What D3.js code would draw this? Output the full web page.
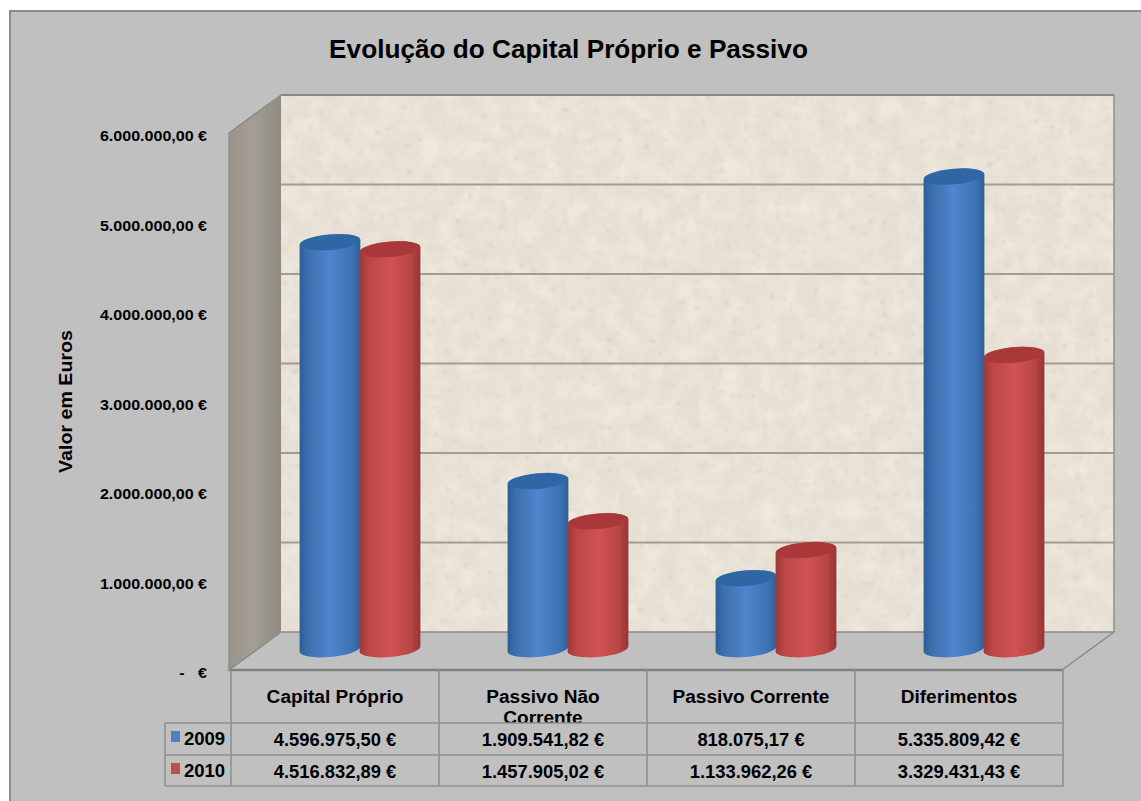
<!DOCTYPE html>
<html><head><meta charset="utf-8">
<script src="https://cdnjs.cloudflare.com/ajax/libs/d3/7.8.5/d3.min.js"></script>
<style>html,body{margin:0;padding:0;background:#fff}svg{display:block;font-family:"Liberation Sans",Arial,sans-serif}</style>
</head><body><div id="c"></div>
<script>
const chartTitle = "Evolução do Capital Próprio e Passivo";
const axisTitle = "Valor em Euros";
const categories = ["Capital Próprio", "Passivo Não Corrente", "Passivo Corrente", "Diferimentos"];
const seriesNames = ["2009", "2010"];
const values2009 = [4596975.50, 1909541.82, 818075.17, 5335809.42];
const values2010 = [4516832.89, 1457905.02, 1133962.26, 3329431.43];
const labels2009 = ["4.596.975,50 €", "1.909.541,82 €", "818.075,17 €", "5.335.809,42 €"];
const labels2010 = ["4.516.832,89 €", "1.457.905,02 €", "1.133.962,26 €", "3.329.431,43 €"];
const tickValues = [0, 1000000, 2000000, 3000000, 4000000, 5000000, 6000000];
const tickLabels = ["-\u00a0\u00a0\u00a0€", "1.000.000,00 €", "2.000.000,00 €", "3.000.000,00 €", "4.000.000,00 €", "5.000.000,00 €", "6.000.000,00 €"];

const W = 1141, H = 801;
const svg = d3.select("#c").append("svg").attr("width", W).attr("height", H);
const defs = svg.append("defs");

const grad = (id, stops) => {
  const g = defs.append("linearGradient").attr("id", id).attr("x1", 0).attr("x2", 1).attr("y1", 0).attr("y2", 0);
  stops.forEach(s => g.append("stop").attr("offset", s[0]).attr("stop-color", s[1]));
};
grad("blue", [[0, "#2d5c95"], [.12, "#3a6fae"], [.5, "#4f86cc"], [.85, "#3f74b4"], [1, "#2f5f9a"]]);
grad("red", [[0, "#9c3a3a"], [.15, "#bd4646"], [.5, "#d25252"], [.85, "#b94545"], [1, "#963434"]]);
grad("side", [[0, "#99948a"], [.45, "#a49e95"], [1, "#8f8b80"]]);

// sandstone texture: faint mottling plus sparse soft specks
const f = defs.append("filter").attr("id", "sand").attr("x", 0).attr("y", 0).attr("width", 1).attr("height", 1);
f.append("feTurbulence").attr("type", "fractalNoise").attr("baseFrequency", 0.05).attr("numOctaves", 3).attr("seed", 3).attr("result", "low");
f.append("feColorMatrix").attr("in", "low").attr("type", "matrix")
  .attr("values", "0 0 0 0 .96  0 0 0 0 .93  0 0 0 0 .86  .7 0 0 0 -.22").attr("result", "mottle");
f.append("feTurbulence").attr("type", "fractalNoise").attr("baseFrequency", 0.16).attr("numOctaves", 2).attr("seed", 11).attr("result", "n");
f.append("feColorMatrix").attr("in", "n").attr("type", "matrix")
  .attr("values", "0 0 0 0 .62  0 0 0 0 .57  0 0 0 0 .48  3 0 0 0 -1.95").attr("result", "spots");
f.append("feGaussianBlur").attr("in", "spots").attr("stdDeviation", 1).attr("result", "soft");
f.append("feMerge").call(m => {
  m.append("feMergeNode").attr("in", "SourceGraphic");
  m.append("feMergeNode").attr("in", "mottle");
  m.append("feMergeNode").attr("in", "soft");
});
defs.append("clipPath").attr("id", "catClip").append("rect").attr("x", 231).attr("y", 670).attr("width", 832).attr("height", 53);

const stretch = (sel, k) => sel.each(function () {
  const n = this.getComputedTextLength();
  d3.select(this).attr("textLength", n * k).attr("lengthAdjust", "spacingAndGlyphs");
});

svg.append("rect").attr("x", 10).attr("y", 11).attr("width", W).attr("height", H)
  .attr("fill", "#c0c0c0").attr("stroke", "#8c8c8c").attr("stroke-width", 2);

svg.append("text").attr("x", 568.5).attr("y", 58).attr("text-anchor", "middle")
  .attr("font-size", 26.2).attr("font-weight", "bold").attr("fill", "#000").text(chartTitle);

const dx = 52, dy = 38;
const yWall = d3.scaleLinear().domain([0, 6000000]).range([670, 133]);
const yBar = d3.scaleLinear().domain([0, 6000000]).range([651, 117.6]);
const xCat = d3.scaleBand().domain(categories).range([231, 1063]);
const baseY = 649, rx = 30.5, ry = 8, tilt = -5;

const L = 229, R = 1062;
const g = svg.append("g");
g.append("rect").attr("x", L + dx).attr("y", yWall(6000000) - dy).attr("width", R - L)
  .attr("height", yWall(0) - yWall(6000000)).attr("fill", "#e6dfd3").attr("filter", "url(#sand)");
g.append("path").attr("d", d3.line()([[L, yWall(6000000)], [L + dx, yWall(6000000) - dy], [L + dx, yWall(0) - dy], [L, yWall(0)]]) + "Z")
  .attr("fill", "url(#side)");
g.append("path").attr("d", d3.line()([[L, yWall(0)], [L + dx, yWall(0) - dy], [R + dx, yWall(0) - dy], [R, yWall(0)]]) + "Z")
  .attr("fill", "#c0c0c0").attr("stroke", "#8a8a86").attr("stroke-width", 1.5);
g.append("line").attr("x1", L).attr("x2", R).attr("y1", yWall(0)).attr("y2", yWall(0)).attr("stroke", "#808080").attr("stroke-width", 2.5);
g.selectAll("line.grid").data(tickValues.slice(1)).join("line").attr("class", "grid")
  .attr("x1", L + dx).attr("x2", R + dx).attr("y1", d => yWall(d) - dy).attr("y2", d => yWall(d) - dy)
  .attr("stroke", d => d === 6000000 ? "#8c8880" : "#a39c90").attr("stroke-width", 2);
g.append("line").attr("x1", R + dx).attr("x2", R + dx).attr("y1", yWall(6000000) - dy).attr("y2", yWall(0) - dy).attr("stroke", "#8f8f8a").attr("stroke-width", 1.5);
g.append("line").attr("x1", L + dx).attr("x2", L).attr("y1", yWall(6000000) - dy).attr("y2", yWall(6000000)).attr("stroke", "#8f8b82").attr("stroke-width", 1.5);
g.append("line").attr("x1", L).attr("x2", L).attr("y1", yWall(6000000)).attr("y2", yWall(0)).attr("stroke", "#8f8f8a").attr("stroke-width", 1.5);

const axis = d3.axisLeft(yWall).tickValues(tickValues).tickSize(0).tickPadding(0)
  .tickFormat((d, i) => tickLabels[i]);
const axG = svg.append("g").attr("transform", "translate(207,3)").call(axis);
axG.select(".domain").remove();
axG.selectAll("text").attr("font-family", "'Liberation Sans',Arial,sans-serif").attr("font-size", 15)
  .attr("font-weight", "bold").attr("fill", "#000").call(stretch, 1.07);

svg.append("text").attr("transform", "translate(72,401.5) rotate(-90)").attr("text-anchor", "middle")
  .attr("font-size", 18).attr("font-weight", "bold").text(axisTitle).call(stretch, 1.09);

const rad = tilt * Math.PI / 180;
const cylinder = (cx, top) => {
  const ex = rx * Math.cos(rad), ey = rx * Math.sin(rad);
  return `M${cx - ex},${baseY - ey}L${cx - ex},${top - ey}` +
    `A${rx},${ry} ${tilt} 0 1 ${cx + ex},${top + ey}` +
    `L${cx + ex},${baseY + ey}` +
    `A${rx},${ry} ${tilt} 0 1 ${cx - ex},${baseY - ey}Z`;
};
const topEllipse = (cx, top) => `translate(${cx},${top}) rotate(${tilt})`;
[values2009, values2010].forEach((vals, si) => {
  const s = svg.append("g");
  const items = vals.map((v, i) => ({ v, cx: xCat(categories[i]) + xCat.bandwidth() / 2 + 25 + (si ? 30 : -30) }));
  s.selectAll("path").data(items).join("path")
    .attr("d", d => cylinder(d.cx, yBar(d.v)))
    .attr("fill", si ? "url(#red)" : "url(#blue)");
  s.selectAll("ellipse").data(items).join("ellipse")
    .attr("rx", rx - .5).attr("ry", ry - .3)
    .attr("transform", d => topEllipse(d.cx, yBar(d.v)))
    .attr("fill", si ? "#a93838" : "#2f66a4");
});

const tbl = svg.append("g");
const colX = [165, 231, 439, 647, 855, 1063];
const rowY = [670, 723, 755, 786];
const stroke = "#8f8f8f";
const ln = (x1, y1, x2, y2) => tbl.append("line").attr("x1", x1).attr("y1", y1).attr("x2", x2).attr("y2", y2).attr("stroke", stroke).attr("stroke-width", 1.6);

const centers = [0, 1, 2, 3].map(i => (colX[i + 1] + colX[i + 2]) / 2);
const cats = tbl.append("g").attr("clip-path", "url(#catClip)").attr("font-size", 17.5).attr("font-weight", "bold").attr("text-anchor", "middle");
categories.forEach((c, i) => {
  const wrapped = c === "Passivo Não Corrente" ? ["Passivo Não", "Corrente"] : [c];
  wrapped.forEach((t, k) => cats.append("text").attr("x", centers[i]).attr("y", 703 + k * 21).text(t).call(stretch, 1.09));
});
[rowY[1], rowY[2], rowY[3]].forEach(y => ln(165, y, 1064, y));
ln(165, rowY[1], 165, rowY[3]);
colX.slice(1).forEach(x => ln(x, 670, x, rowY[3]));

[labels2009, labels2010].forEach((lab, r) => {
  const cy = rowY[r + 1] + 22.5;
  tbl.append("rect").attr("x", 171).attr("y", rowY[r + 1] + 8).attr("width", 9).attr("height", 11).attr("fill", r ? "#c0504d" : "#4f81bd");
  tbl.append("text").attr("x", 184).attr("y", rowY[r + 1] + 22).attr("font-size", 18.5).attr("font-weight", "bold").text(seriesNames[r]);
  lab.forEach((t, i) => tbl.append("text").attr("x", centers[i]).attr("y", cy).attr("text-anchor", "middle")
    .attr("font-size", 18).attr("font-weight", "bold").text(t).call(stretch, 1.02));
});
</script></body></html>
